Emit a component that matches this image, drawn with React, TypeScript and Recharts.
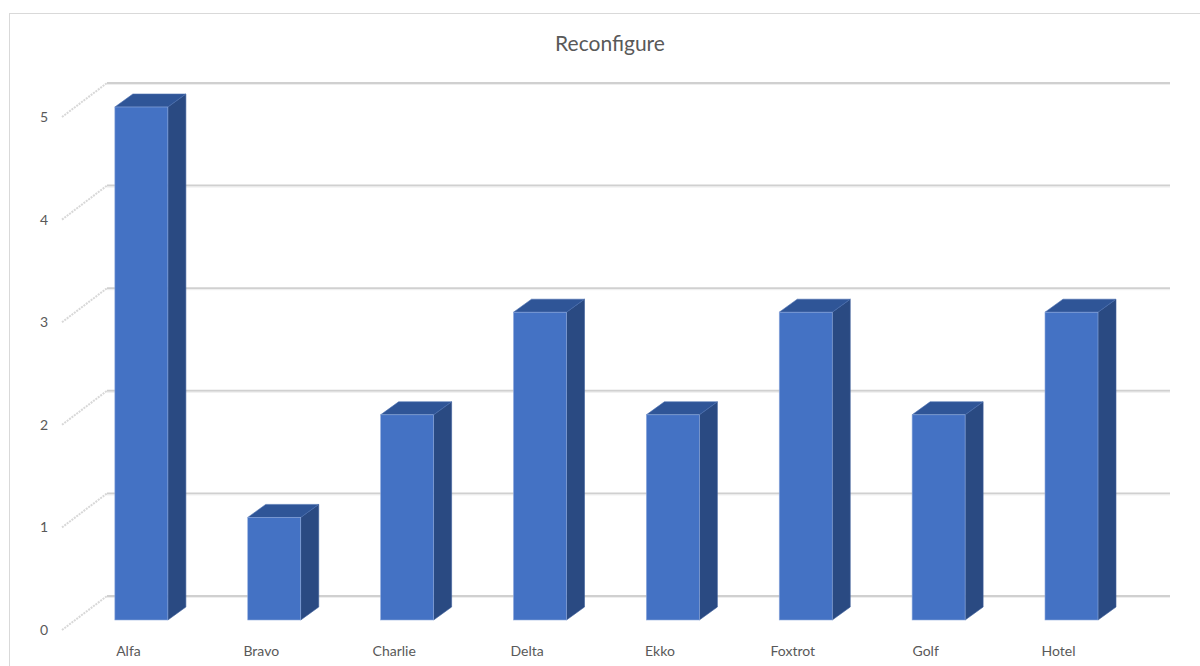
import React from 'react';
import { BarChart, Bar, XAxis, YAxis, CartesianGrid } from 'recharts';

const categories = ['Alfa', 'Bravo', 'Charlie', 'Delta', 'Ekko', 'Foxtrot', 'Golf', 'Hotel'];
const values = [5, 1, 2, 3, 2, 3, 2, 3];
const yTicks = [0, 1, 2, 3, 4, 5];

const data = categories.map((name, i) => ({ name, value: values[i] }));

// 3D depth of the floor/back wall and of each column
const DEPTH_X = 45;
const DEPTH_Y = -34;
const BAR_OFF_X = 13;
const BAR_OFF_Y = -10;
const BAR_DX = 18;
const BAR_DY = -13;

const FRONT = '#4472C4';
const TOP = '#2F5597';
const SIDE = '#2A4A82';

const FONT = 'Lato, "Open Sans", sans-serif';

function Column(props: any) {
  const { x, y, width, height } = props;
  if (height == null || width == null) return null;
  const x0 = x + BAR_OFF_X;
  const y0 = y + BAR_OFF_Y;
  const x1 = x0 + width;
  const yb = y0 + height;
  const top = `${x0},${y0} ${x0 + BAR_DX},${y0 + BAR_DY} ${x1 + BAR_DX},${y0 + BAR_DY} ${x1},${y0}`;
  const side = `${x1},${y0} ${x1 + BAR_DX},${y0 + BAR_DY} ${x1 + BAR_DX},${yb + BAR_DY} ${x1},${yb}`;
  return (
    <g>
      <polygon points={side} fill={SIDE} stroke="#3a5d99" strokeWidth={0.6} />
      <polygon points={top} fill={TOP} stroke="#4a6fb0" strokeWidth={0.6} />
      <rect x={x0} y={y0} width={width} height={height} fill={FRONT} stroke="#8faadc" strokeWidth={0.6} />
    </g>
  );
}

// gridline drawn on the back wall, joined to the front edge by a diagonal on the side wall
function WallLine(props: any) {
  const { x1, x2, y1 } = props;
  const bx1 = x1 + DEPTH_X;
  const bx2 = x2 + DEPTH_X;
  const by = y1 + DEPTH_Y;
  return (
    <g key={props.key}>
      <line x1={x1} y1={y1} x2={bx1} y2={by} stroke="#d8d8d8" strokeWidth={2} strokeDasharray="2 1" />
      <line x1={bx1} y1={by} x2={bx2} y2={by} stroke="#d0d0d0" strokeWidth={2} />
      <line x1={bx1} y1={by + 1.5} x2={bx2} y2={by + 1.5} stroke="#eeeeee" strokeWidth={1} />
    </g>
  );
}

export default function App() {
  return (
    <div style={{ position: 'absolute', left: 0, top: 0, width: 1200, height: 666, background: '#fff', overflow: 'hidden' }}>
      <div
        style={{
          position: 'absolute',
          left: 9,
          top: 13,
          width: 1200,
          height: 700,
          borderLeft: '1.5px solid #d9d9d9',
          borderTop: '1.5px solid #d9d9d9',
        }}
      />
      <div
        style={{
          position: 'absolute',
          top: 30,
          left: 0,
          width: 1220,
          textAlign: 'center',
          fontFamily: FONT,
          fontSize: 21,
          color: '#595959',
        }}
      >
        Reconfigure
      </div>
      <div style={{ position: 'absolute', left: 0, top: 0 }}>
        <BarChart
          width={1200}
          height={666}
          data={data}
          margin={{ top: 117, right: 75, bottom: 6, left: 0 }}
          barCategoryGap="30%"
        >
          <CartesianGrid vertical={false} horizontal={(p: any) => <WallLine {...p} />} />
          <XAxis
            dataKey="name"
            axisLine={false}
            tickLine={false}
            tickSize={0}
            tickMargin={16}
            height={30}
            interval={0}
            tick={{ fill: '#595959', fontSize: 14, fontFamily: FONT }}
          />
          <YAxis
            domain={[0, 5]}
            ticks={yTicks}
            axisLine={false}
            tickLine={false}
            tickSize={0}
            tickMargin={14}
            width={62}
            tick={{ fill: '#595959', fontSize: 14, fontFamily: FONT }}
          />
          <Bar dataKey="value" shape={<Column />} isAnimationActive={false} />
        </BarChart>
      </div>
    </div>
  );
}
